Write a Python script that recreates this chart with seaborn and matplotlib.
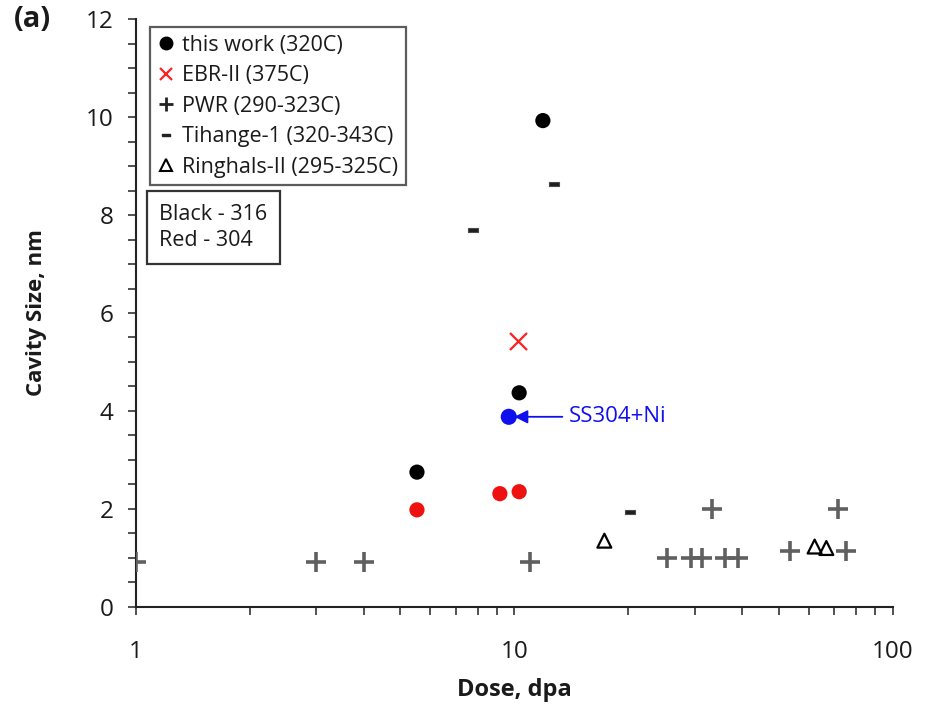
import matplotlib
matplotlib.use("Agg")
import matplotlib.pyplot as plt
from matplotlib.lines import Line2D
import seaborn as sns
import numpy as np

sns.set_theme(style="ticks")
plt.rcParams['font.family'] = ['Open Sans', 'DejaVu Sans']

# ---- data ----
this316_dose = [11.9, 10.3, 5.53]
this316_size = [9.93, 4.37, 2.75]
this304_dose = [5.53, 9.16, 10.3]
this304_size = [1.98, 2.31, 2.35]
ni_dose = [9.67]
ni_size = [3.88]
ebr_dose = [10.2]
ebr_size = [5.43]
pwr_dose = [1, 3, 4, 11, 33.4, 71.7, 25.3, 29.4, 31.4, 36.0, 39.0, 53.4, 75.1]
pwr_size = [0.92, 0.92, 0.92, 0.92, 2.0, 2.0, 1.0, 1.0, 1.0, 1.0, 1.0, 1.13, 1.13]
tih_dose = [7.77, 12.7, 20.2]
tih_size = [7.69, 8.63, 1.94]
ring_dose = [17.3, 62.2, 66.8]
ring_size = [1.35, 1.23, 1.20]

labels = ["this work (320C)", "EBR-II (375C)", "PWR (290-323C)",
          "Tihange-1 (320-343C)", "Ringhals-II (295-325C)"]

fig = plt.figure(figsize=(9.25, 7.13), dpi=100)
ax = fig.add_axes([0.147, 0.149, 0.818, 0.824])

dash = [(-1, -0.35), (1, -0.35), (1, 0.35), (-1, 0.35), (-1, -0.35)]

sns.scatterplot(x=pwr_dose, y=pwr_size, ax=ax, marker='+', s=210, color='#606060',
                linewidth=2.6, zorder=3, legend=False)
sns.scatterplot(x=ring_dose, y=ring_size, ax=ax, marker='^', s=100, facecolor='none',
                edgecolor='black', linewidth=1.6, zorder=3, legend=False)
sns.scatterplot(x=tih_dose, y=tih_size, ax=ax, marker=dash, s=50, color='#1e1e1e',
                edgecolor='#4a4a4a', linewidth=0.8, zorder=3, legend=False)
sns.scatterplot(x=this316_dose, y=this316_size, ax=ax, marker='o', s=120, color='black',
                edgecolor='none', zorder=4, legend=False)
sns.scatterplot(x=this304_dose, y=this304_size, ax=ax, marker='o', s=120, color='#ee1111',
                edgecolor='none', zorder=4, legend=False)
sns.scatterplot(x=ni_dose, y=ni_size, ax=ax, marker='o', s=135, color='#1010ee',
                edgecolor='none', zorder=4, legend=False)
sns.scatterplot(x=ebr_dose, y=ebr_size, ax=ax, marker='x', s=150, color='#ff2020',
                linewidth=1.6, zorder=4, legend=False)

ax.set_xscale('log')
ax.set_xlim(1, 100)
ax.set_ylim(0, 12)
ax.set_yticks(np.arange(0, 13, 2))
ax.set_yticks(np.arange(0, 12.01, 0.5), minor=True)
ax.set_xticks([1, 10, 100])
ax.set_xticklabels(['1', '10', '100'])
ax.tick_params(axis='both', which='both', direction='out', length=6, width=1.2,
               color='#333333', labelsize=17.5, pad=10, labelcolor='#1a1a1a')
ax.tick_params(axis='x', which='major', pad=18)
for s in ['top', 'right']:
    ax.spines[s].set_visible(False)
for s in ['left', 'bottom']:
    ax.spines[s].set_linewidth(1.5)
    ax.spines[s].set_color('#222222')

ax.set_xlabel('Dose, dpa', fontsize=17, fontweight='bold', labelpad=10, color='#1a1a1a')
ax.set_ylabel('Cavity Size, nm', fontsize=16, fontweight='bold', labelpad=28, color='#1a1a1a')

handles = [
    Line2D([], [], ls='none', marker='o', ms=9, color='black'),
    Line2D([], [], ls='none', marker='x', ms=9, mew=1.6, color='#ff2020'),
    Line2D([], [], ls='none', marker='+', ms=10, mew=2, color='#222222'),
    Line2D([], [], ls='none', marker=dash, ms=6, color='#222222'),
    Line2D([], [], ls='none', marker='^', ms=9, mfc='none', mec='black', mew=1.5),
]
leg = ax.legend(handles, labels, loc='upper left', bbox_to_anchor=(0.0185, 0.986), fontsize=15.5,
                frameon=True, fancybox=False, edgecolor='#333333', handlelength=0.75,
                handletextpad=0.4, borderpad=0.35, labelspacing=0.44, borderaxespad=0.0)
leg.get_frame().set_linewidth(1.6)
for t in leg.get_texts():
    t.set_color('#1a1a1a')

ax.text(0.031, 0.685, 'Black - 316\nRed - 304', transform=ax.transAxes, fontsize=15.5,
        va='top', ha='left', linespacing=1.3, color='#1a1a1a',
        bbox=dict(boxstyle='square,pad=0.6', facecolor='white', edgecolor='#333333', linewidth=1.6))

ax.annotate('SS304+Ni', xy=(10.0, 3.88), xytext=(13.9, 3.88), color='#1010ee', fontsize=16,
            va='center', ha='left',
            arrowprops=dict(arrowstyle='-|>', color='#1010ee', lw=1.3, mutation_scale=20,
                            shrinkA=2, shrinkB=0))

fig.text(0.015, 0.972, '(a)', fontsize=21, fontweight='bold', ha='left', va='center', color='#1a1a1a')

fig.savefig('out.png', dpi=100)
